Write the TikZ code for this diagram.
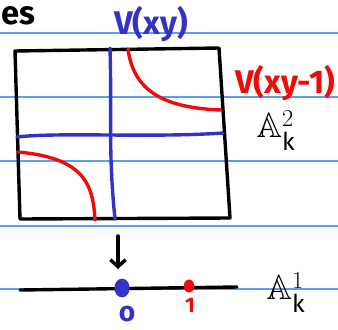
\documentclass[tikz,border=0pt]{standalone}
\usepackage{amssymb}
\usepackage{fontspec}
\setmainfont{Fira Sans}
\usetikzlibrary{arrows.meta,shapes.geometric}
\definecolor{ruleblue}{RGB}{90,160,240}
\definecolor{penblue}{RGB}{50,50,200}
\definecolor{penred}{RGB}{240,10,10}

\begin{document}
\begin{tikzpicture}[x=0.3mm, y=-0.3mm, line cap=round, line join=round,
    pen/.style={line width=2.9pt},
    hand/.style={font=\fontsize{28}{30}\selectfont\bfseries, inner sep=0pt},
    affine/.style={font=\fontsize{30}{32}\selectfont, inner sep=0pt}]

    \useasboundingbox (0,0) rectangle (338,329);

    % Ruled paper
    \foreach \y in {33,97,161,226,289}{
      \draw[ruleblue, line width=0.9pt] (0,\y) -- (338,\y);
    }

    % Word at the top left
    \node[hand, anchor=west] (cut) at (1,16) {es};

    % The square (affine plane)
    \coordinate (nw) at (15,51);
    \coordinate (ne) at (219,48);
    \coordinate (se) at (230,218);
    \coordinate (sw) at (20,219);
    \draw[pen, black] (nw) -- (ne) -- (se) -- (sw) -- cycle;

    % Axes V(xy)
    \draw[pen, penblue] (110,48) .. controls (112,120) and (108,150) .. (115,219);
    \draw[pen, penblue] (17,137) .. controls (60,132) and (150,138) .. (223,133);

    % Hyperbola V(xy-1)
    \draw[pen, penred] (128,49) .. controls (134,95) and (170,108) .. (221,110);
    \draw[pen, penred] (18,152) .. controls (85,158) and (93,185) .. (95,220);

    % Labels of the plane
    \node[hand, penblue] (vxy) at (151,24) {V(xy)};
    \node[hand, penred] (vxyone) at (285,83) {V(xy-1)};
    \node[affine, black] (plane) at (276,131) {$\mathbb{A}^2_{\mathrm{k}}$};

    % Projection to the line
    \coordinate (arrtop) at (118,236);
    \coordinate (arrbot) at (118,269);
    \draw[pen, black, -{Straight Barb[length=6pt, width=13pt]}] (arrtop) -- (arrbot);

    % The affine line
    \coordinate (lineL) at (20,290);
    \coordinate (lineR) at (237,287);
    \draw[pen, black] (lineL) -- (lineR);
    \node[affine, black] (line) at (286,293) {$\mathbb{A}^1_{\mathrm{k}}$};

    % Points 0 and 1
    \node[fill=penblue, ellipse, minimum width=13, minimum height=16, inner sep=0pt] (zero) at (122,288) {};
    \node[fill=penred, ellipse, minimum width=9, minimum height=11, inner sep=0pt] (one) at (189,286) {};
    \node[hand, penblue, font=\fontsize{24}{26}\selectfont\bfseries] (zerolab) at (127,314) {o};
    \node[hand, penred, font=\fontsize{18}{20}\selectfont\bfseries] (onelab) at (190,305) {1};

\end{tikzpicture}
\end{document}
